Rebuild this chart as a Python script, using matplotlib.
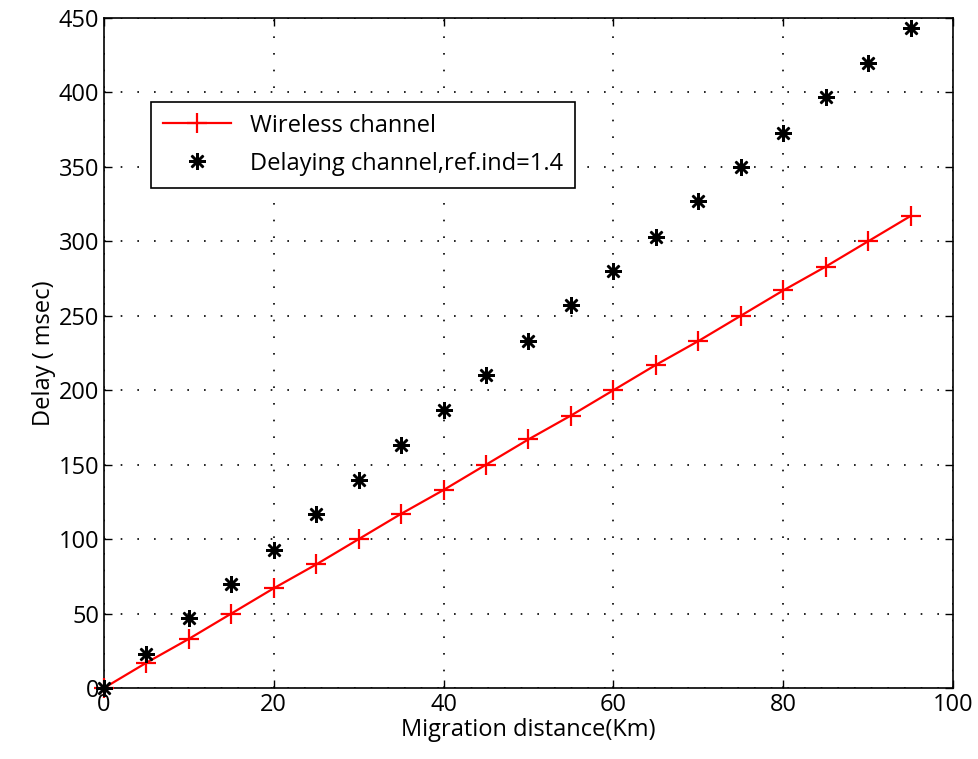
import matplotlib.pyplot as plt
import numpy as np

plt.rcParams['font.family'] = ['Open Sans', 'DejaVu Sans']

distance = [0, 5, 10, 15, 20, 25, 30, 35, 40, 45, 50, 55, 60, 65, 70, 75, 80, 85, 90, 95]
wireless = [0, 17, 33, 50, 67, 83, 100, 117, 133, 150, 167, 183, 200, 217, 233, 250, 267, 283, 300, 317]
delaying = [0, 23, 47, 70, 93, 117, 140, 163, 187, 210, 233, 257, 280, 303, 327, 350, 373, 397, 420, 443]

fig = plt.figure(figsize=(9.79, 7.59), dpi=100)
ax = fig.add_axes([104/979, 1-688/759, (953-104)/979, (688-18)/759])

ax.plot(distance, wireless, 'r-', marker='+', markersize=14, markeredgewidth=1.6,
        linewidth=1.6, label='Wireless channel', clip_on=False, zorder=3)
ax.plot(distance, delaying, linestyle='none', color='k', marker=(8, 2, 0),
        markersize=12, markeredgewidth=1.8, label='Delaying channel,ref.ind=1.4',
        clip_on=False, zorder=4)

ax.set_xlim(0, 100)
ax.set_ylim(0, 450)
ax.set_xticks(np.arange(0, 101, 20))
ax.set_yticks(np.arange(0, 451, 50))
ax.tick_params(direction='in', top=True, right=True, labelsize=17, length=6, width=1)
ax.grid(True, linestyle=(0, (1, 9)), color='k', linewidth=1.2)
for s in ax.spines.values():
    s.set_linewidth(1.2)

ax.set_xlabel('Migration distance(Km)', fontsize=17, labelpad=1)
ax.set_ylabel('Delay ( msec)', fontsize=17, labelpad=2)

leg = ax.legend(loc='upper left', bbox_to_anchor=(0.055, 0.875), borderaxespad=0,
                fontsize=17, fancybox=False, framealpha=1, edgecolor='k',
                handlelength=2.9, borderpad=0.5, labelspacing=0.6)
leg.get_frame().set_linewidth(1.2)

fig.savefig('out.png', dpi=100)
